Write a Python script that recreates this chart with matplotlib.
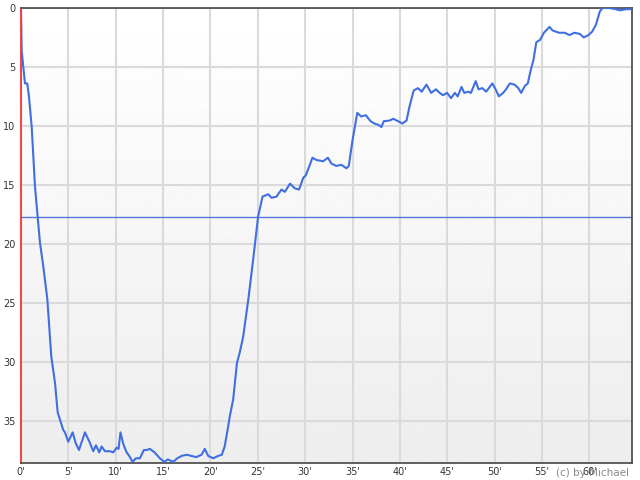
"""
Position chart over race time (inverted y, 0 = leader).
"""

import matplotlib.pyplot as plt
import numpy as np

MINUTES = [
    0.0, 0.07, 0.42, 0.66, 0.84, 1.13, 1.48, 1.76, 2.0, 2.35, 2.78, 3.2, 3.59, 3.87,
    4.11, 4.46, 4.64, 4.99, 5.45, 5.77, 6.12, 6.75, 7.28, 7.63, 7.91, 8.26, 8.51,
    8.86, 9.39, 9.74, 10.1, 10.3, 10.5, 10.8, 11.15, 11.43, 11.78, 12.13, 12.55,
    12.97, 13.26, 13.6, 14.1, 14.66, 15.1, 15.5, 16.07, 16.5, 16.95, 17.5, 18.0,
    18.5, 19.06, 19.4, 19.76, 20.3, 20.8, 21.2, 21.5, 21.87, 22.05, 22.4, 22.8,
    23.1, 23.45, 24.0, 24.5, 25.03, 25.5, 26.1, 26.45, 26.97, 27.5, 27.85, 28.4,
    28.9, 29.35, 29.8, 30.06, 30.4, 30.77, 31.2, 31.9, 32.4, 32.77, 33.3, 33.8,
    34.36, 34.6, 35.0, 35.5, 35.9, 36.4, 36.9, 37.3, 37.7, 38.05, 38.3, 38.9,
    39.3, 39.8, 40.26, 40.7, 41.0, 41.45, 41.9, 42.3, 42.8, 43.3, 43.8, 44.2,
    44.55, 44.97, 45.4, 45.8, 46.1, 46.5, 46.8, 47.2, 47.5, 48.0, 48.3, 48.7,
    49.1, 49.76, 50.1, 50.45, 50.9, 51.2, 51.6, 52.1, 52.5, 52.8, 53.2, 53.5,
    53.8, 54.1, 54.4, 54.8, 55.2, 55.8, 56.1, 56.8, 57.4, 57.9, 58.4, 59.0,
    59.4, 59.9, 60.3, 60.7, 61.1, 61.4, 62.1, 62.8, 63.2, 63.9, 64.4,
]
POSITIONS = [
    0.0, 3.6, 6.4, 6.4, 7.5, 10.1, 15.2, 17.7, 19.9, 21.9, 24.7, 29.6, 31.8, 34.3,
    34.9, 35.8, 36.0, 36.8, 36.0, 36.9, 37.5, 36.0, 36.9, 37.6, 37.1, 37.7, 37.2,
    37.6, 37.6, 37.7, 37.3, 37.4, 36.0, 37.0, 37.7, 38.0, 38.5, 38.2, 38.2,
    37.5, 37.5, 37.4, 37.7, 38.2, 38.5, 38.3, 38.5, 38.2, 38.0, 37.9, 38.0,
    38.1, 37.9, 37.4, 38.0, 38.2, 38.0, 37.9, 37.2, 35.5, 34.6, 33.2, 30.1,
    29.2, 27.9, 24.7, 21.4, 17.7, 16.0, 15.8, 16.1, 16.0, 15.4, 15.6, 14.9,
    15.3, 15.4, 14.4, 14.2, 13.5, 12.7, 12.9, 13.0, 12.7, 13.2, 13.4, 13.3,
    13.6, 13.4, 11.2, 8.9, 9.2, 9.1, 9.6, 9.8, 9.9, 10.1, 9.6, 9.55,
    9.4, 9.6, 9.8, 9.55, 8.4, 7.0, 6.8, 7.1, 6.5, 7.2, 6.9, 7.2,
    7.4, 7.2, 7.65, 7.2, 7.5, 6.7, 7.2, 7.1, 7.2, 6.2, 6.9, 6.8,
    7.1, 6.4, 6.9, 7.5, 7.2, 6.9, 6.4, 6.5, 6.8, 7.2, 6.6, 6.4,
    5.3, 4.4, 2.9, 2.7, 2.1, 1.6, 1.9, 2.1, 2.1, 2.3, 2.1, 2.2,
    2.5, 2.3, 2.0, 1.4, 0.3, 0.0, 0.0, 0.1, 0.2, 0.1, 0.1,
]
AVERAGE_POSITION = 17.7

X_TICKS = list(range(0, 65, 5))
X_TICK_LABELS = [f"{m}'" for m in X_TICKS]
Y_TICKS = list(range(0, 40, 5))
X_MAX = 64.5
Y_MAX = 38.6


fig = plt.figure(figsize=(6.4, 4.8), dpi=100)
ax = fig.add_axes([21 / 640, 1 - 463 / 480, 611 / 640, 455 / 480])

# vertical background gradient, white at top to light gray at bottom
grad = np.linspace(1.0, 0.93, 256).reshape(-1, 1)
ax.imshow(grad, cmap="gray", vmin=0, vmax=1, aspect="auto",
          extent=[0, X_MAX, Y_MAX, 0], zorder=0)

ax.set_xlim(0, X_MAX)
ax.set_ylim(Y_MAX, 0)

ax.set_xticks(X_TICKS)
ax.set_xticklabels(X_TICK_LABELS)
ax.set_yticks(Y_TICKS)
ax.tick_params(length=0, labelsize=7, colors="#333333", pad=3)
ax.tick_params(axis="y", pad=4)
ax.grid(True, color="#dadada", linewidth=1.5, zorder=1)
ax.set_axisbelow(True)

for side in ["top", "right", "bottom"]:
    ax.spines[side].set_color("#444444")
    ax.spines[side].set_linewidth(1.2)
ax.spines["left"].set_color("#ff2020")
ax.spines["left"].set_linewidth(1.2)

ax.axhline(AVERAGE_POSITION, color="#5577dd", linewidth=1.0, zorder=2)
ax.plot(MINUTES, POSITIONS, color="#3f6fe0", linewidth=1.5, zorder=3)

fig.text(0.983, 0.004, "(c) by Michael", ha="right", va="bottom",
         fontsize=7.5, color="#888888")

fig.savefig("out.png", dpi=100)
